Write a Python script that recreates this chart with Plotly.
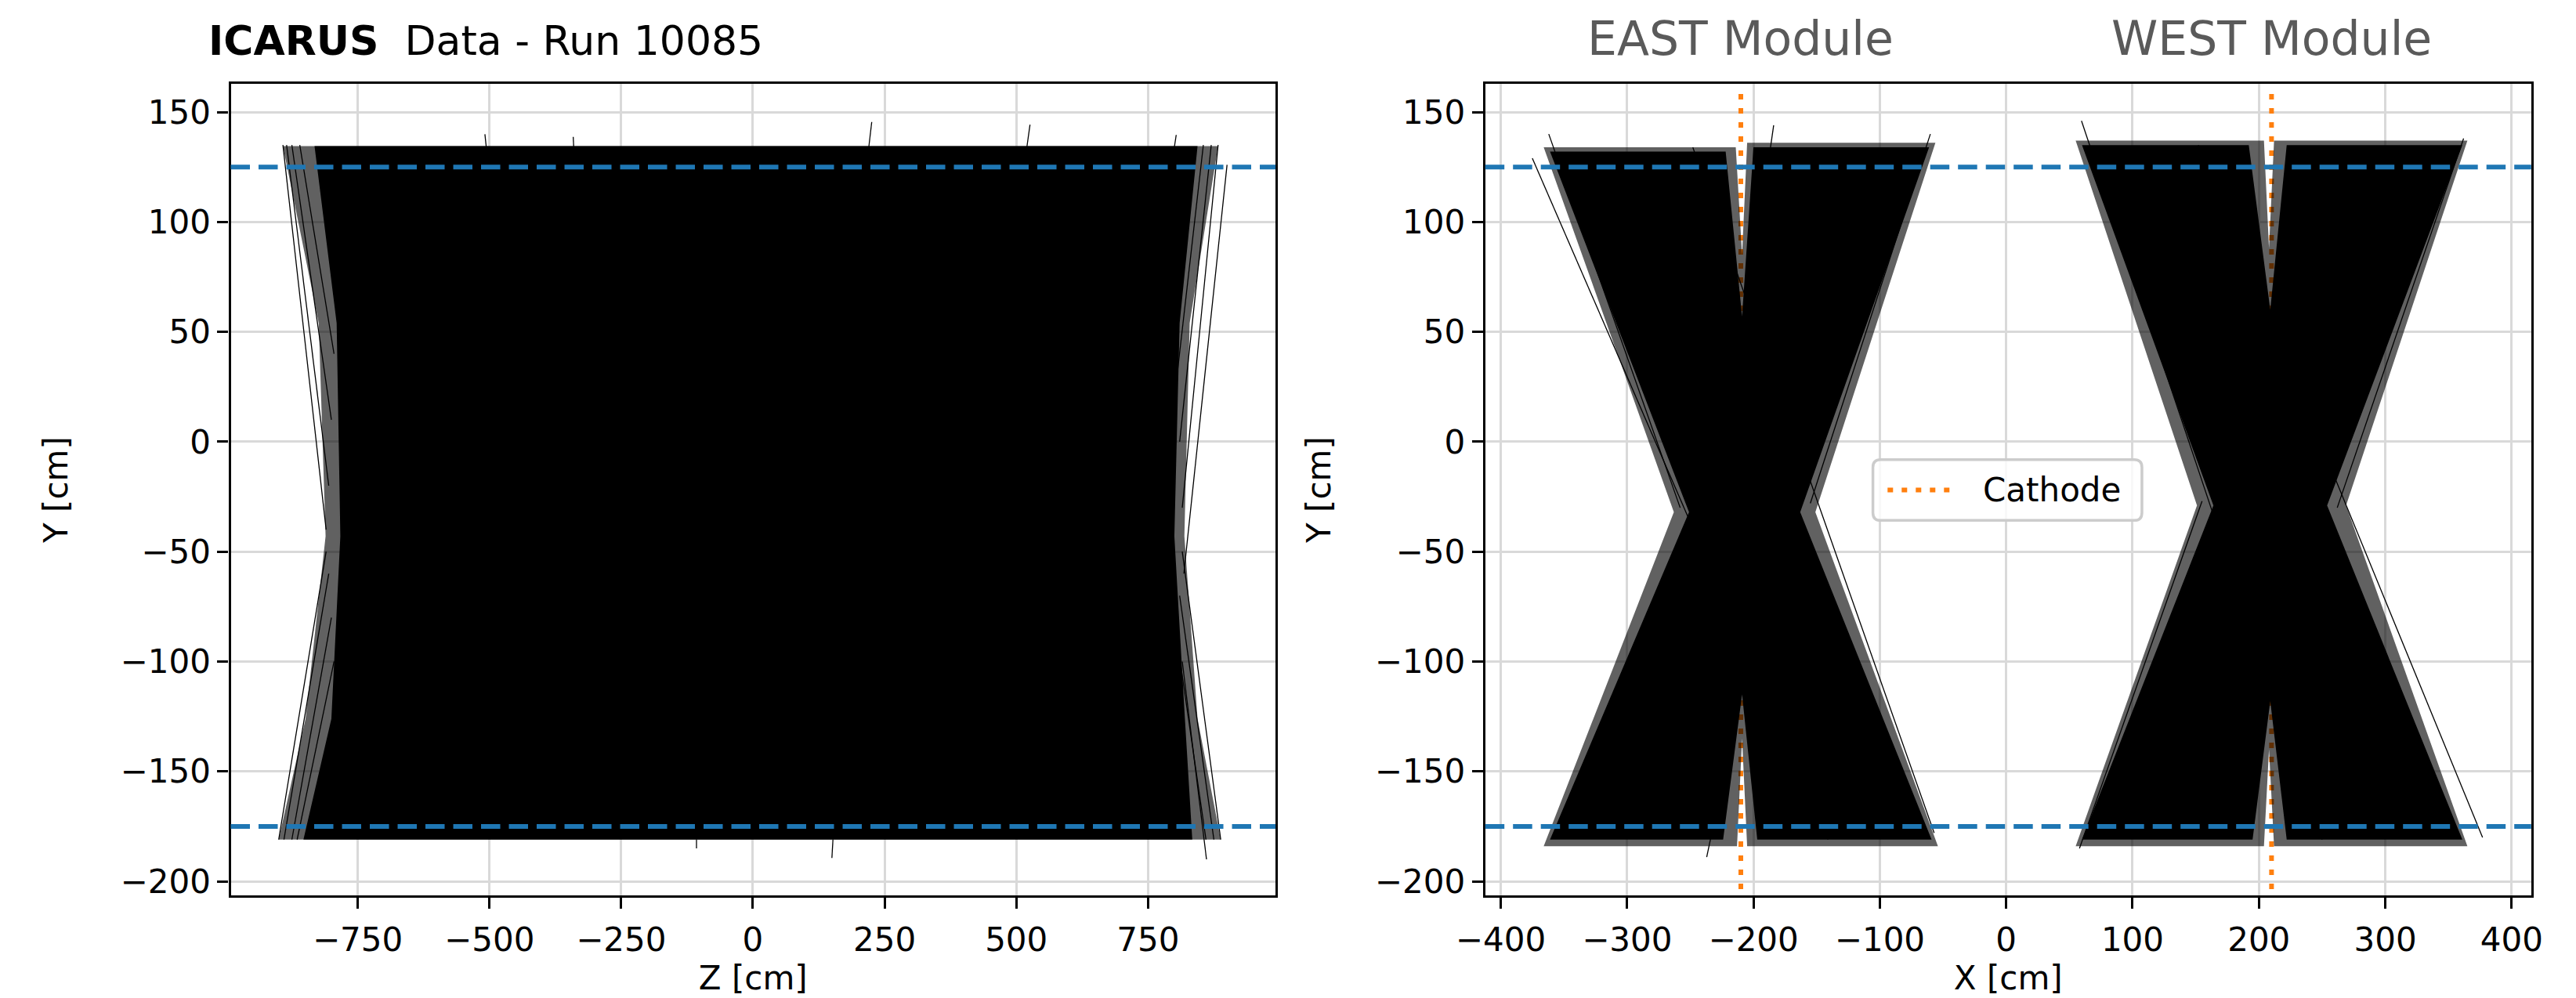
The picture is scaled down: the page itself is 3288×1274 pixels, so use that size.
import plotly.graph_objects as go
from plotly.subplots import make_subplots

# ---------------- data ----------------
# Left panel (Z vs Y): outline of the saturated track band
zy_core_z = [-832, -790, -783, -800, -853, 834, 820, 800, 810, 844]
zy_core_y = [134.5, 54, -43, -126, -181, -181, -126, -43, 54, 134.5]
# Left panel: outline of the sparser fringe of tracks
zy_fringe_z = [-892, -824, -811, -849, -900, 888, 844, 819, 829, 883]
zy_fringe_y = [134.5, 54, -43, -126, -181, -181, -126, -43, 54, 134.5]
# Left panel: individual visible tracks (start / end)
zy_trk_z0 = [-892, -885, -875, -860, -900, -890, -875, -865, 900, 883, 870, 855, 888, 861, 875, 860,
             225.6, 526, 803.5, -508.6, -341, 150, -107]
zy_trk_y0 = [135, 135, 135, 135, -181, -181, -181, -181, 126, 135, 135, 135, -181, -190, -181, -181,
             145.5, 144.3, 139.6, 139.9, 138.7, -189.4, -185]
zy_trk_z1 = [-810, -805, -800, -795, -810, -805, -800, -795, 818, 815, 810, 805, 815, 815, 810, 805,
             220, 520, 800, -506, -340, 152, -107]
zy_trk_y1 = [-40, -20, 10, 40, -50, -60, -80, -100, -60, -30, 0, 30, -50, -100, -70, -90,
             134, 134, 134, 134, 134, -181, -181]

# Right panel (X vs Y): EAST module band outline
east_core_x = [-361, -222, -209, -200, -61, -163, -59, -197, -209, -224, -361, -251]
east_core_y = [132, 132, 57, 134, 134, -32, -181, -181, -115, -181, -181, -32]
east_fringe_x = [-366, -214, -209, -205, -56, -151, -54, -205, -209, -213, -366, -263]
east_fringe_y = [134, 134, 85, 136, 136, -32, -184, -184, -135, -184, -184, -32]
# WEST module band outline
west_core_x = [60, 192, 209, 222, 361, 254, 361, 222, 209, 195, 60, 164]
west_core_y = [135, 135, 60, 135, 135, -29, -181, -181, -118, -181, -181, -29]
west_fringe_x = [55, 204, 208, 212, 365, 269, 365, 212, 208, 204, 55, 151]
west_fringe_y = [137, 137, 88, 137, 137, -29, -184, -184, -140, -184, -184, -29]
# Right panel: individual visible tracks
xy_trk_x0 = [-375, -248, -184, -237, 59.6, 152, -362, -60, 58, 362]
xy_trk_y0 = [129, 134, 144, -189, 146, 135, 140, 140, -185, 138]
xy_trk_x1 = [-141, -57, -195, -230, 250, 377, -258, -155, 155, 262]
xy_trk_y1 = [-181, -178, 100, -170, -181, -180, -30, -28, -27, -30]

# Reference lines
fiducial_y = [125, -175]
cathode_x = [-210, 210]
cathode_y_span = [-210, 160]

# Tick values
z_ticks = [-750, -500, -250, 0, 250, 500, 750]
x_ticks = [-400, -300, -200, -100, 0, 100, 200, 300, 400]
y_ticks = [-200, -150, -100, -50, 0, 50, 100, 150]

module_names = ["EAST Module", "WEST Module"]
title_bold = "ICARUS"
title_rest = "Data - Run 10085"
legend_label = "Cathode"

# ---------------- helpers ----------------
def segments(x0, y0, x1, y1):
    xs, ys = [], []
    for a, b, c, d in zip(x0, y0, x1, y1):
        xs += [a, c, None]
        ys += [b, d, None]
    return xs, ys

W, H = 3288, 1274
def px(v):
    return v / W
def py(v):
    return 1 - v / H

fig = make_subplots(rows=1, cols=2)

FRINGE = "rgba(0,0,0,0.62)"
ORANGE = "#ff7f0e"
ORANGE_DASH = "7px,11px"

# cathode (drawn under the tracks)
cx, cy = [], []
for c in cathode_x:
    cx += [c, c, None]
    cy += [cathode_y_span[0], cathode_y_span[1], None]
fig.add_trace(go.Scatter(x=cx, y=cy, mode="lines", name=legend_label,
                         line=dict(color=ORANGE, width=6, dash=ORANGE_DASH),
                         hoverinfo="skip", showlegend=False), row=1, col=2)

def poly(x, y, color, row, col):
    fig.add_trace(go.Scatter(x=x + [x[0]], y=y + [y[0]], mode="lines", fill="toself",
                             fillcolor=color, line=dict(width=0, color=color),
                             showlegend=False, hoverinfo="skip"), row=row, col=col)

poly(zy_fringe_z, zy_fringe_y, FRINGE, 1, 1)
poly(zy_core_z, zy_core_y, "black", 1, 1)
sx, sy = segments(zy_trk_z0, zy_trk_y0, zy_trk_z1, zy_trk_y1)
fig.add_trace(go.Scatter(x=sx, y=sy, mode="lines", line=dict(color="black", width=1.3),
                         showlegend=False, hoverinfo="skip"), row=1, col=1)

poly(east_fringe_x, east_fringe_y, FRINGE, 1, 2)
poly(east_core_x, east_core_y, "black", 1, 2)
poly(west_fringe_x, west_fringe_y, FRINGE, 1, 2)
poly(west_core_x, west_core_y, "black", 1, 2)
sx, sy = segments(xy_trk_x0, xy_trk_y0, xy_trk_x1, xy_trk_y1)
fig.add_trace(go.Scatter(x=sx, y=sy, mode="lines", line=dict(color="black", width=1.3),
                         showlegend=False, hoverinfo="skip"), row=1, col=2)

# fiducial dashed lines on both panels (above tracks)
for yv in fiducial_y:
    for xr, yr in [("x", "y"), ("x2", "y2")]:
        fig.add_shape(type="line", xref=xr + " domain", yref=yr, x0=0, x1=1, y0=yv, y1=yv,
                      line=dict(color="#1f77b4", width=6, dash="24.5px,11px"), layer="above")

# legend box (rounded) with dotted sample and label
lx0, lx1, ly0, ly1, r = 2383, 2732, 582, 660, 10
path = (f"M {px(lx0 + r)} {py(ly0)} L {px(lx1 - r)} {py(ly0)} Q {px(lx1)} {py(ly0)} {px(lx1)} {py(ly0 + r)} "
        f"L {px(lx1)} {py(ly1 - r)} Q {px(lx1)} {py(ly1)} {px(lx1 - r)} {py(ly1)} "
        f"L {px(lx0 + r)} {py(ly1)} Q {px(lx0)} {py(ly1)} {px(lx0)} {py(ly1 - r)} "
        f"L {px(lx0)} {py(ly0 + r)} Q {px(lx0)} {py(ly0)} {px(lx0 + r)} {py(ly0)} Z")
fig.add_shape(type="path", path=path, xref="paper", yref="paper", layer="above",
              fillcolor="rgba(255,255,255,0.8)", line=dict(color="#cccccc", width=3.5))
fig.add_shape(type="line", xref="paper", yref="paper", x0=px(2402), x1=px(2493), y0=py(621), y1=py(621),
              line=dict(color=ORANGE, width=6, dash=ORANGE_DASH), layer="above")
fig.add_annotation(xref="paper", yref="paper", x=px(2524), y=py(621), xanchor="left", yanchor="middle",
                   text=legend_label, showarrow=False, font=dict(size=42, color="black"))

GRID = "#d9d9d9"
axis_common = dict(showgrid=True, gridcolor=GRID, gridwidth=3.3, zeroline=False,
                   showline=True, linecolor="black", linewidth=3.3, mirror=True,
                   ticks="outside", ticklen=14, tickwidth=3.3, tickcolor="black",
                   tickfont=dict(size=42, color="black"))

ydom = [1 - 1141 / H, 1 - 100 / H]
fig.update_xaxes(axis_common, row=1, col=1, domain=[252.6 / W, 1608 / W], range=[-991, 992],
                 tickvals=z_ticks, ticklabelstandoff=4,
                 title=dict(text="Z [cm]", font=dict(size=42), standoff=10))
fig.update_xaxes(axis_common, row=1, col=2, domain=[1880 / W, 3237 / W], range=[-412.3, 415.5],
                 tickvals=x_ticks, ticklabelstandoff=4,
                 title=dict(text="X [cm]", font=dict(size=42), standoff=10))
fig.update_yaxes(axis_common, row=1, col=1, domain=ydom, range=[-206.3, 162.7],
                 tickvals=y_ticks, title=dict(text="Y [cm]", font=dict(size=42), standoff=54))
fig.update_yaxes(axis_common, row=1, col=2, domain=ydom, range=[-206.3, 162.7],
                 tickvals=y_ticks, title=dict(text="Y [cm]", font=dict(size=42), standoff=44))

# titles
fig.add_annotation(xref="paper", yref="paper", x=px(222), y=py(44), xanchor="left", yanchor="middle",
                   text="<b>" + title_bold + "</b>&nbsp; " + title_rest, showarrow=False,
                   font=dict(size=52, color="black"))
for name, cxv in zip(module_names, cathode_x):
    fig.add_annotation(xref="x2", yref="paper", x=cxv, y=py(41), xanchor="center", yanchor="middle",
                       text=name, showarrow=False, font=dict(size=60, color="#5a5a5a"))

fig.update_layout(
    width=W, height=H, margin=dict(l=0, r=0, t=0, b=0),
    plot_bgcolor="white", paper_bgcolor="white",
    font=dict(family="DejaVu Sans", size=42, color="black"),
    showlegend=False,
)

fig.write_html("out.html")
